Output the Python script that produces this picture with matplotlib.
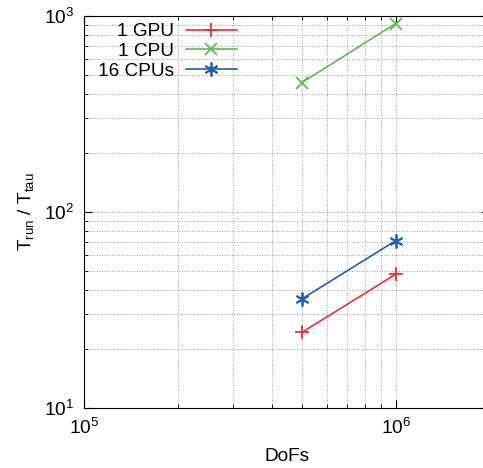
import numpy as np, matplotlib
matplotlib.use("Agg")
import matplotlib.pyplot as plt

plt.rcParams["font.family"] = ["Liberation Sans", "DejaVu Sans"]
plt.rcParams["mathtext.fontset"] = "custom"
plt.rcParams["mathtext.rm"] = "Liberation Sans"
plt.rcParams["mathtext.it"] = "Liberation Sans"
plt.rcParams["mathtext.default"] = "regular"

dofs = [5e5, 1e6]
gpu1 = [24.3, 48.1]
cpu1 = [457, 915]
cpu16 = [36.0, 71.4]
labels = ["1 GPU", "1 CPU", "16 CPUs"]

FS = 13.7
W, H = 483, 468
fig = plt.figure(figsize=(W / 100, H / 100), dpi=100)
ax = fig.add_axes([84 / W, (H - 408) / H, (489.5 - 84) / W, (408 - 16) / H])

ax.plot(dofs, gpu1, color="#e8303a", lw=1.2, marker="+", ms=10, mew=1.3, label=labels[0])
ax.plot(dofs, cpu1, color="#5cbc4c", lw=1.2, marker="x", ms=8, mew=1.3, label=labels[1])
ax.plot(dofs, cpu16, color="#2060b0", lw=1.2, marker=(6, 2, 0), ms=10, mew=1.3, label=labels[2])

ax.set_xscale("log"); ax.set_yscale("log")
ax.set_xlim(1e5, 2e6); ax.set_ylim(10, 1000)
ax.grid(which="both", ls=(0, (1, 2)), color="0.5", lw=0.6)
ax.tick_params(which="both", direction="in", top=True, right=True, labelsize=FS, pad=7)
ax.tick_params(which="major", length=6, width=0.8)
ax.tick_params(which="minor", length=3, width=0.6)
ax.set_xlabel("DoFs", fontsize=FS, labelpad=7)
ax.set_ylabel(r"T$_\mathregular{run}$ / T$_\mathregular{tau}$", fontsize=FS, labelpad=6)

ax.legend(loc="upper right", bbox_to_anchor=(237 / W, 1 - 23 / H), bbox_transform=fig.transFigure,
          frameon=False, markerfirst=False, fontsize=FS, handlelength=2.7, handletextpad=0.6,
          labelspacing=0.12, borderpad=0, borderaxespad=0)

fig.savefig("out.png", dpi=100)
